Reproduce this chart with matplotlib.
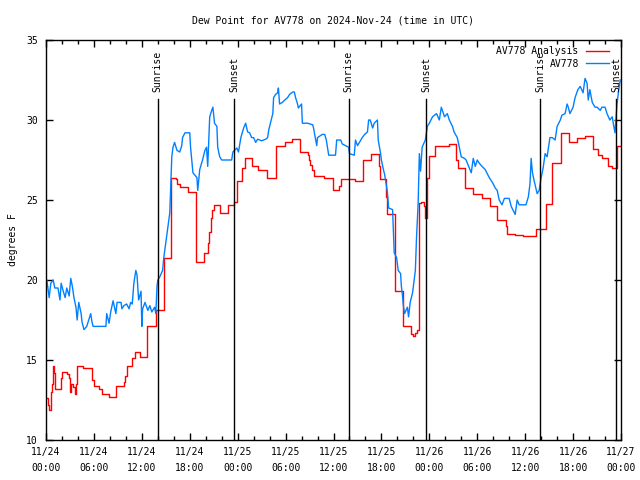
import datetime as dt
import matplotlib
matplotlib.use('Agg')
import matplotlib.pyplot as plt
import matplotlib.dates as mdates

start = dt.datetime(2024, 11, 24, 0, 0)

# AV778 observations (hours since start, dew point F)
obs_hours = [0.1, 0.4, 0.6, 0.9, 1.1, 1.5, 1.75, 1.9, 2.1, 2.4, 2.6, 2.9, 3.1, 3.3, 3.5, 3.75,
             3.9, 4.1, 4.4, 4.5, 4.75, 5.1, 5.6, 5.75, 5.9, 7.5, 7.6, 7.9, 8.1, 8.4, 8.75, 8.9,
             9.4, 9.5, 9.75, 10.1, 10.4, 10.6, 10.8, 11.0, 11.25, 11.4, 11.6, 11.9, 12.0, 12.1,
             12.4, 12.75, 13.0, 13.25, 13.6, 13.75, 13.9, 14.0, 14.25, 14.6, 14.75, 15.1, 15.25,
             15.5, 15.6, 15.75, 15.9, 16.1, 16.4, 16.75, 17.0, 17.1, 17.4, 18.0, 18.1, 18.4, 18.9,
             19.0, 19.25, 19.6, 19.9, 20.1, 20.25, 20.5, 20.75, 20.9, 21.1, 21.4, 21.5, 21.75,
             22.0, 23.25, 23.4, 23.9, 24.1, 24.4, 24.75, 25.0, 25.25, 25.5, 25.75, 26.0, 26.25,
             26.5, 27.0, 27.5, 27.75, 27.9, 28.1, 28.4, 28.5, 28.75, 29.0, 29.1, 29.25, 29.6,
             29.9, 30.25, 30.5, 30.9, 31.1, 31.25, 31.5, 31.6, 32.0, 32.1, 32.75, 33.4, 33.5,
             33.9, 34.0, 34.6, 34.9, 35.1, 35.4, 36.25, 36.4, 36.9, 37.1, 37.5, 37.9, 38.0, 38.6,
             38.75, 39.0, 39.25, 39.6, 39.9, 40.25, 40.4, 40.6, 40.9, 41.1, 41.5, 41.6, 41.9,
             42.0, 42.25, 42.4, 42.75, 42.9, 43.4, 43.5, 43.6, 43.9, 44.1, 44.4, 44.5, 44.6,
             44.75, 44.9, 45.25, 45.4, 45.6, 45.9, 46.25, 46.4, 46.6, 46.75, 46.9, 47.1, 47.5,
             47.75, 48.0, 48.4, 48.9, 49.25, 49.5, 49.9, 50.25, 50.5, 50.9, 51.1, 51.5, 51.75,
             52.0, 52.4, 52.6, 53.0, 53.25, 53.5, 53.75, 54.0, 54.25, 54.6, 55.0, 55.5, 55.9,
             56.25, 56.5, 56.75, 57.1, 57.4, 58.0, 58.25, 58.6, 58.75, 59.0, 59.25, 60.1, 60.4,
             60.6, 60.75, 60.9, 61.1, 61.5, 61.75, 62.0, 62.25, 62.5, 62.75, 63.1, 63.4, 63.75,
             64.0, 64.4, 64.6, 65.0, 65.25, 65.4, 65.6, 66.0, 66.25, 66.6, 66.9, 67.25, 67.5,
             67.75, 67.9, 68.1, 68.4, 68.75, 69.0, 69.4, 69.6, 70.0, 70.25, 70.6, 70.9, 71.1,
             71.25, 71.5, 71.75, 71.9]
obs_dewpt = [20.0, 18.9, 19.8, 20.0, 19.5, 19.5, 18.75, 19.8, 19.4, 18.9, 19.5, 19.0, 20.1, 19.6,
             18.9, 18.3, 17.5, 18.6, 17.9, 17.4, 16.9, 17.1, 17.9, 17.4, 17.1, 17.1, 17.9, 17.3,
             18.0, 18.7, 17.9, 18.6, 18.6, 18.2, 18.4, 18.5, 18.2, 18.6, 18.5, 19.8, 20.6, 20.3,
             18.75, 19.3, 17.1, 18.2, 18.6, 18.1, 18.4, 18.0, 18.3, 17.9, 19.6, 20.0, 20.2, 20.6,
             21.4, 22.7, 23.3, 24.2, 25.6, 27.7, 28.3, 28.6, 28.1, 28.0, 28.4, 28.9, 29.2, 29.2,
             28.3, 26.7, 26.4, 25.6, 26.9, 27.5, 28.1, 28.3, 27.1, 30.2, 30.6, 30.8, 29.8, 29.6,
             28.3, 27.7, 27.5, 27.5, 28.0, 28.25, 28.0, 28.9, 29.5, 29.8, 29.25, 29.2, 28.9, 28.9,
             28.6, 28.8, 28.7, 28.8, 28.9, 29.4, 29.8, 30.4, 31.4, 31.6, 31.7, 32.0, 31.0, 31.1,
             31.25, 31.4, 31.6, 31.75, 31.75, 31.4, 31.0, 30.75, 31.0, 29.8, 29.8, 29.7, 29.5,
             28.4, 28.9, 29.1, 29.1, 28.75, 27.8, 27.8, 28.75, 28.75, 28.5, 28.4, 28.3, 27.9, 27.8,
             28.75, 28.4, 28.6, 28.9, 29.1, 29.25, 30.0, 30.0, 29.5, 29.8, 30.0, 28.75, 27.9,
             27.5, 26.9, 26.6, 25.5, 24.5, 24.4, 23.1, 21.7, 21.4, 20.6, 20.4, 19.6, 19.2, 18.4,
             17.9, 18.3, 17.7, 18.6, 19.2, 20.6, 22.7, 24.8, 27.9, 26.8, 28.3, 28.75, 29.6, 29.8,
             30.2, 30.4, 30.0, 30.8, 30.2, 30.4, 30.0, 29.6, 29.25, 28.9, 28.3, 27.7, 27.6, 27.5,
             27.0, 26.7, 27.6, 27.1, 27.5, 27.3, 27.1, 26.9, 26.4, 26.1, 25.75, 25.6, 25.0, 24.7,
             25.1, 25.1, 24.6, 24.25, 24.1, 25.0, 24.7, 24.7, 25.2, 26.0, 27.6, 26.75, 26.25,
             25.4, 25.6, 26.4, 27.0, 27.9, 27.7, 28.9, 28.9, 28.75, 29.6, 30.0, 30.3, 30.4, 31.0,
             30.8, 30.4, 30.8, 31.4, 31.9, 32.1, 31.7, 32.6, 32.3, 31.25, 31.9, 31.1, 30.8, 30.8,
             30.6, 30.8, 30.8, 30.4, 30.0, 30.2, 29.6, 29.2, 31.0, 32.0, 32.5]

# AV778 Analysis (stepped)
ana_hours = [0.0, 0.25, 0.4, 0.6, 0.7, 0.85, 1.0, 1.1, 1.85, 1.95, 2.6, 2.9, 3.0, 3.1, 3.4, 3.6,
             3.75, 3.9, 4.6, 5.8, 6.0, 6.6, 6.95, 7.9, 8.8, 9.75, 9.9, 10.1, 10.8, 11.1, 11.8,
             12.7, 13.8, 14.75, 15.7, 16.3, 16.4, 16.75, 17.75, 18.75, 19.75, 20.25, 20.4, 20.6,
             20.75, 21.0, 21.75, 22.75, 23.5, 23.9, 24.6, 24.9, 25.75, 26.6, 27.7, 28.75, 29.9,
             30.75, 31.75, 32.75, 32.9, 33.1, 33.3, 33.6, 34.75, 35.9, 36.75, 37.0, 38.75, 39.75,
             40.75, 41.7, 41.8, 42.6, 42.75, 43.75, 44.75, 45.75, 45.9, 46.25, 46.5, 46.7, 47.0,
             47.3, 47.45, 47.7, 47.9, 48.0, 48.75, 50.4, 51.4, 51.6, 52.5, 53.5, 54.6, 55.6, 56.5,
             57.6, 57.75, 58.75, 59.75, 61.4, 62.6, 63.4, 64.5, 65.5, 66.5, 67.5, 68.5, 69.1,
             69.6, 70.4, 70.9, 71.5, 71.9]
ana_dewpt = [12.6, 12.2, 11.9, 13.0, 13.5, 14.6, 14.2, 13.2, 13.9, 14.25, 14.1, 13.9, 13.0, 13.5,
             13.3, 12.9, 13.5, 14.6, 14.5, 13.75, 13.4, 13.2, 12.9, 12.7, 13.4, 13.6, 14.0, 14.6,
             15.1, 15.5, 15.2, 17.1, 18.1, 21.4, 26.4, 26.3, 26.0, 25.8, 25.5, 21.1, 21.7, 22.3,
             23.0, 23.9, 24.4, 24.7, 24.2, 24.7, 24.9, 26.2, 27.0, 27.6, 27.1, 26.9, 26.4, 28.4,
             28.6, 28.8, 28.0, 27.8, 27.5, 27.2, 26.9, 26.5, 26.4, 25.6, 25.9, 26.3, 26.2, 27.5,
             27.9, 27.1, 26.3, 25.2, 24.1, 19.3, 17.1, 16.6, 16.5, 16.7, 16.9, 24.8, 24.9, 24.6,
             23.9, 26.4, 26.9, 27.75, 28.4, 28.5, 27.5, 27.0, 25.75, 25.4, 25.1, 24.6, 23.75,
             23.4, 22.9, 22.8, 22.75, 23.2, 24.75, 27.3, 29.2, 28.6, 28.9, 29.0, 28.2, 27.8,
             27.6, 27.1, 27.0, 28.4, 28.4]

sun_hours = [14.0, 23.6, 37.9, 47.6, 61.9, 71.4]
sun_labels = ['Sunrise', 'Sunset', 'Sunrise', 'Sunset', 'Sunrise', 'Sunset']

font = 'DejaVu Sans Mono'
plt.rcParams['font.family'] = font
plt.rcParams['font.size'] = 7

def to_time(hours):
    return [start + dt.timedelta(hours=h) for h in hours]

fig = plt.figure(figsize=(6.4, 4.8), dpi=100)
ax = fig.add_axes([46 / 640, 40 / 480, 575 / 640, 400 / 480])

l_ana, = ax.step(to_time(ana_hours), ana_dewpt, where='post', color='#ff0000', lw=1.0)
l_obs, = ax.plot(to_time(obs_hours), obs_dewpt, color='#0080ff', lw=1.0)

# sunrise / sunset markers
for h, lab in zip(sun_hours, sun_labels):
    t = start + dt.timedelta(hours=h)
    ax.plot([t, t], [10, 31.3], color='black', lw=1.0)
    ax.text(t, 31.75, lab, rotation=90, ha='center', va='bottom', fontsize=7)

ax.set_xlim(start, start + dt.timedelta(hours=72))
ax.set_ylim(10, 35)
ax.set_yticks([10, 15, 20, 25, 30, 35])

ax.xaxis.set_major_locator(mdates.HourLocator(byhour=[0, 6, 12, 18]))
ax.xaxis.set_minor_locator(mdates.HourLocator(interval=2))
ax.xaxis.set_major_formatter(mdates.DateFormatter('%m/%d\n%H:%M'))
plt.setp(ax.get_xticklabels(), linespacing=1.7)

ax.tick_params(which='both', direction='in', top=True, right=True, width=1)
ax.tick_params(which='major', length=5)
ax.tick_params(which='minor', length=3)
ax.tick_params(axis='x', pad=5)
ax.tick_params(axis='y', pad=6)
for s in ax.spines.values():
    s.set_linewidth(1.0)

ax.set_ylabel('degrees F', labelpad=6)
ax.set_title('Dew Point for AV778 on 2024-Nov-24 (time in UTC)', fontsize=7, pad=12)

ax.legend([l_ana, l_obs], ['AV778 Analysis', 'AV778'], loc='upper right',
          bbox_to_anchor=(0.984, 0.992), frameon=False,
          markerfirst=False, handlelength=2.4, handletextpad=0.7, labelspacing=0.25,
          borderaxespad=0.1, borderpad=0.2, fontsize=7)

fig.savefig('out.png', dpi=100)
